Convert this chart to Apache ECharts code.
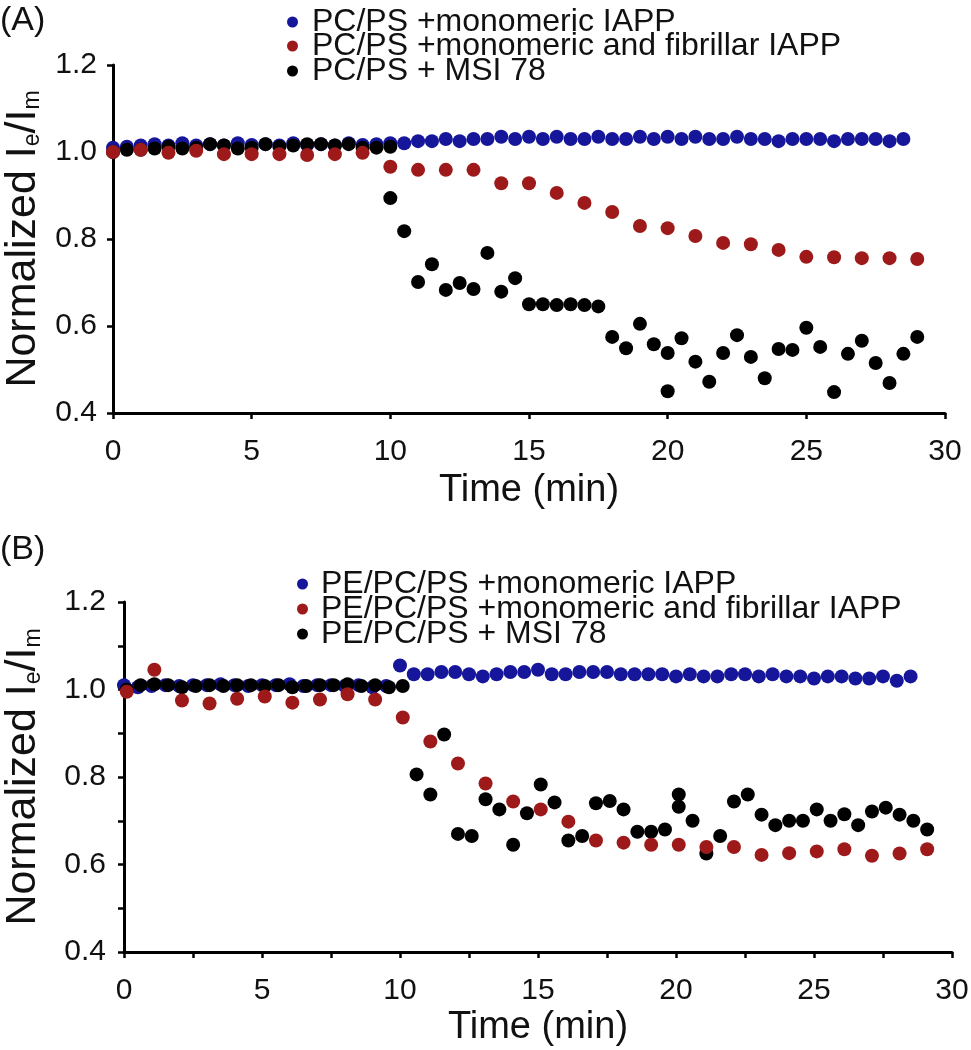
<!DOCTYPE html>
<html><head><meta charset="utf-8">
<script src="https://cdn.jsdelivr.net/npm/echarts@6/dist/echarts.min.js"></script>
<style>html,body{margin:0;padding:0;background:#fff}#c{width:971px;height:1050px}</style>
</head><body><div id="c"></div>
<script>
// ---------- Data ----------
const legendA = ['PC/PS +monomeric IAPP', 'PC/PS +monomeric and fibrillar IAPP', 'PC/PS + MSI 78'];
const legendB = ['PE/PC/PS +monomeric IAPP', 'PE/PC/PS +monomeric and fibrillar IAPP', 'PE/PC/PS + MSI 78'];
const xTicks = [0, 5, 10, 15, 20, 25, 30];
const yTicks = [0.4, 0.6, 0.8, 1.0, 1.2];

// Panel A
const aBlueT = [0,0.5,1,1.5,2,2.5,3,3.5,4,4.5,5,5.5,6,6.5,7,7.5,8,8.5,9,9.5,10,10.5,11,11.5,12,12.5,13,13.5,14,14.5,15,15.5,16,16.5,17,17.5,18,18.5,19,19.5,20,20.5,21,21.5,22,22.5,23,23.5,24,24.5,25,25.5,26,26.5,27,27.5,28,28.5];
const aBlueV = [1.01,1.012,1.015,1.018,1.015,1.02,1.015,1.018,1.015,1.02,1.016,1.018,1.015,1.02,1.016,1.018,1.015,1.02,1.016,1.018,
  1.02,1.02,1.025,1.025,1.03,1.025,1.03,1.03,1.035,1.03,1.035,1.03,1.035,1.03,1.03,1.035,1.03,1.03,1.035,1.03,1.035,1.03,1.035,1.03,1.03,1.035,1.03,1.03,1.025,1.03,1.03,1.03,1.025,1.03,1.03,1.03,1.025,1.03];
const aRedT = [0,1,2,3,4,5,6,7,8,9,10,11,12,13,14,15,16,17,18,19,20,21,22,23,24,25,26,27,28,29];
const aRedV = [1.0,1.005,0.998,1.003,0.995,0.995,0.995,0.993,0.995,0.998,0.966,0.959,0.959,0.959,0.928,0.928,0.906,0.883,0.862,0.830,0.825,0.807,0.791,0.788,0.775,0.759,0.758,0.756,0.756,0.754];
const aBlackT = [0,0.5,1,1.5,2,2.5,3,3.5,4,4.5,5,5.5,6,6.5,7,7.5,8,8.5,9,9.5,10,
  10,10.5,11,11.5,12,12.5,13,13.5,14,14.5,15,15.5,16,16.5,17,17.5,18,18.5,19,19.5,20,20,20.5,21,21.5,22,22.5,23,23.5,24,24.5,25,25.5,26,26.5,27,27.5,28,28.5,29];
const aBlackV = [1.0,1.005,1.005,1.008,1.012,1.008,1.01,1.018,1.015,1.008,1.01,1.018,1.012,1.015,1.018,1.018,1.015,1.018,1.01,1.01,1.012,
  0.894,0.818,0.701,0.742,0.683,0.699,0.685,0.768,0.679,0.710,0.650,0.650,0.648,0.650,0.648,0.645,0.575,0.549,0.605,0.558,0.538,0.450,0.572,0.518,0.472,0.538,0.579,0.529,0.480,0.547,0.545,0.596,0.552,0.448,0.536,0.566,0.515,0.469,0.536,0.575];

// Panel B
const bBlueT = [0,0.5,1,1.5,2,2.5,3,3.5,4,4.5,5,5.5,6,6.5,7,7.5,8,8.5,9,9.5,10,10.5,11,11.5,12,12.5,13,13.5,14,14.5,15,15.5,16,16.5,17,17.5,18,18.5,19,19.5,20,20.5,21,21.5,22,22.5,23,23.5,24,24.5,25,25.5,26,26.5,27,27.5,28,28.5];
const bBlueV = [1.01,1.005,1.008,1.01,1.008,1.01,1.01,1.012,1.01,1.008,1.01,1.01,1.012,1.008,1.01,1.01,1.008,1.01,1.005,1.008,
  1.055,1.035,1.035,1.04,1.04,1.035,1.03,1.035,1.04,1.04,1.045,1.035,1.035,1.04,1.04,1.04,1.035,1.035,1.035,1.035,1.03,1.035,1.03,1.03,1.035,1.035,1.03,1.035,1.03,1.03,1.025,1.03,1.03,1.025,1.025,1.03,1.02,1.03];
const bRedT = [0.1,1.1,2.1,3.1,4.1,5.1,6.1,7.1,8.1,9.1,10.1,11.1,12.1,13.1,14.1,15.1,16.1,17.1,18.1,19.1,20.1,21.1,22.1,23.1,24.1,25.1,26.1,27.1,28.1,29.1];
const bRedV = [0.995,1.045,0.975,0.968,0.979,0.984,0.970,0.977,0.989,0.977,0.936,0.881,0.831,0.785,0.744,0.726,0.698,0.655,0.650,0.645,0.645,0.640,0.640,0.622,0.626,0.630,0.635,0.620,0.625,0.635];
const bBlackT = [0.1,0.6,1.1,1.6,2.1,2.6,3.1,3.6,4.1,4.6,5.1,5.6,6.1,6.6,7.1,7.6,8.1,8.6,9.1,9.6,10.1,
  10.6,11.1,11.6,12.1,12.6,13.1,13.6,14.1,14.6,15.1,15.6,16.1,16.6,17.1,17.6,18.1,18.6,19.1,19.6,20.1,20.1,20.6,21.1,21.6,22.1,22.6,23.1,23.6,24.1,24.6,25.1,25.6,26.1,26.6,27.1,27.6,28.1,28.6,29.1];
const bBlackV = [1.0,1.01,1.012,1.01,1.005,1.008,1.01,1.008,1.01,1.01,1.008,1.01,1.005,1.008,1.01,1.01,1.012,1.008,1.01,1.005,1.008,
  0.806,0.760,0.897,0.670,0.665,0.749,0.726,0.645,0.717,0.783,0.742,0.655,0.665,0.740,0.745,0.726,0.675,0.675,0.680,0.760,0.732,0.700,0.625,0.665,0.744,0.760,0.714,0.690,0.700,0.700,0.726,0.700,0.715,0.690,0.721,0.730,0.714,0.700,0.680];

// ---------- Style ----------
const FONT = 'Liberation Sans';
const BLUE = '#16169a', RED = '#9e1a1a', BLACK = '#000000';
const zip = (t, v) => t.map((x, i) => [x, v[i]]);

function xAxisCfg(gi, minor, gap) {
  return {
    gridIndex: gi, type: 'value', min: xTicks[0], max: xTicks[xTicks.length - 1], interval: 5,
    name: 'Time (min)', nameLocation: 'middle', nameGap: gap,
    nameTextStyle: { fontFamily: FONT, fontSize: 38, color: '#111' },
    axisLine: { show: true, onZero: false, lineStyle: { color: '#000', width: 3 } },
    axisTick: { show: true, inside: false, length: 6, lineStyle: { color: '#000', width: 2.5 } },
    minorTick: { show: minor, splitNumber: 2, length: 6, lineStyle: { color: '#000', width: 2.5 } },
    axisLabel: { fontFamily: FONT, fontSize: 30, color: '#111', margin: 24 },
    splitLine: { show: false }
  };
}
function yAxisCfg(gi, minor, gap, margin) {
  return {
    gridIndex: gi, type: 'value', min: yTicks[0], max: yTicks[yTicks.length - 1], interval: 0.2,
    name: '{n|Normalized I}{s|e}{n|/I}{s|m}', nameLocation: 'middle', nameGap: gap, nameRotate: 90,
    nameTextStyle: {
      rich: {
        n: { fontFamily: FONT, fontSize: 43, color: '#111', lineHeight: 43, verticalAlign: 'top' },
        s: { fontFamily: FONT, fontSize: 23, color: '#111', lineHeight: 23, verticalAlign: 'bottom', padding: [30, 0, 0, 0] }
      }
    },
    axisLine: { show: true, onZero: false, lineStyle: { color: '#000', width: 3 } },
    axisTick: { show: true, inside: false, length: 6, lineStyle: { color: '#000', width: 2.5 } },
    minorTick: { show: minor, splitNumber: 2, length: 6, lineStyle: { color: '#000', width: 2.5 } },
    axisLabel: { fontFamily: FONT, fontSize: 30, color: '#111', margin: margin, formatter: v => v.toFixed(1) },
    splitLine: { show: false }
  };
}
function sc(name, gi, data, color) {
  return {
    name, type: 'scatter', xAxisIndex: gi, yAxisIndex: gi, data,
    symbol: 'circle', symbolSize: 14, itemStyle: { color, opacity: 1 }, emphasis: { disabled: true }, silent: true
  };
}
function legendItem(name, left, top, pad) {
  return {
    data: [{ name, icon: 'circle' }], orient: 'vertical', left, top, padding: 0,
    itemWidth: 11, itemHeight: 11, selectedMode: false,
    textStyle: { fontFamily: FONT, fontSize: 32, color: '#111', lineHeight: 32, padding: [0, 0, 0, pad] }
  };
}

const chart = echarts.init(document.getElementById('c'), null, { renderer: 'canvas' });
chart.setOption({
  animation: false,
  backgroundColor: '#fff',
  title: [
    { text: '(A)', left: 0, top: 4, padding: 0, textStyle: { fontFamily: FONT, fontSize: 34, fontWeight: 'normal', color: '#111' } },
    { text: '(B)', left: 0, top: 533, padding: 0, textStyle: { fontFamily: FONT, fontSize: 34, fontWeight: 'normal', color: '#111' } }
  ],
  legend: [
    legendItem(legendA[0], 287, 6, 9), legendItem(legendA[1], 287, 30, 9), legendItem(legendA[2], 287, 55, 9),
    legendItem(legendB[0], 297, 568, 8), legendItem(legendB[1], 297, 593, 8), legendItem(legendB[2], 297, 618, 8)
  ],
  grid: [
    { left: 113, right: 26, top: 65, bottom: 637, containLabel: false, outerBoundsMode: 'none' },
    { left: 124, right: 19, top: 602, bottom: 98, containLabel: false, outerBoundsMode: 'none' }
  ],
  xAxis: [xAxisCfg(0, false, 59), xAxisCfg(1, true, 57)],
  yAxis: [yAxisCfg(0, false, 68, 16), yAxisCfg(1, true, 79, 18)],
  series: [
    sc(legendA[0], 0, zip(aBlueT, aBlueV), BLUE),
    sc(legendA[2], 0, zip(aBlackT, aBlackV), BLACK),
    sc(legendA[1], 0, zip(aRedT, aRedV), RED),
    sc(legendB[0], 1, zip(bBlueT, bBlueV), BLUE),
    sc(legendB[2], 1, zip(bBlackT, bBlackV), BLACK),
    sc(legendB[1], 1, zip(bRedT, bRedV), RED)
  ]
});
</script></body></html>
